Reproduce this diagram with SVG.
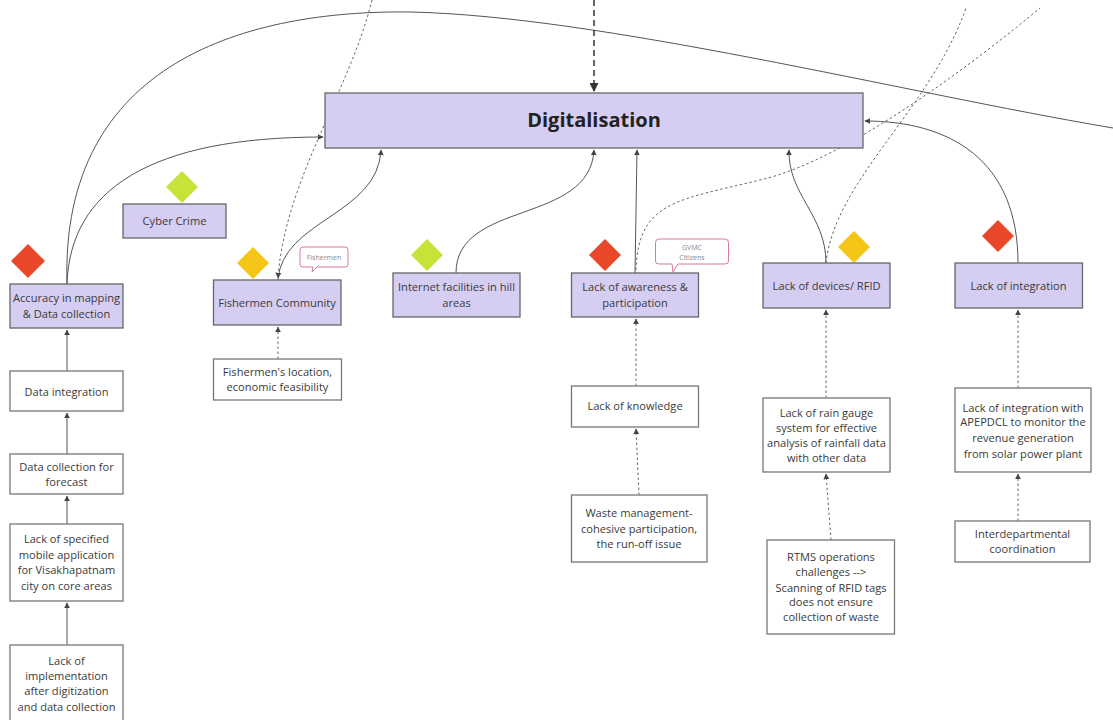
<svg xmlns="http://www.w3.org/2000/svg" width="1113" height="720" viewBox="0 0 1113 720">
<style>
.p{fill:#d5cdf2;stroke:#666;stroke-width:1.3}
.w{fill:#fff;stroke:#777;stroke-width:1.3}
.t{font-family:"Open Sans","Liberation Sans",sans-serif;font-size:11.1px;fill:#3a3a3a;text-anchor:middle;dominant-baseline:central}
.s{fill:none;stroke:#555;stroke-width:1}
.d{fill:none;stroke:#666;stroke-width:1;stroke-dasharray:2.5 2.5}
.c{fill:#fff;stroke:#d9789b;stroke-width:1}
.ct{font-family:"Open Sans","Liberation Sans",sans-serif;font-size:7px;fill:#888;text-anchor:middle;dominant-baseline:central}
.red{fill:#e8472a}.yel{fill:#f5c518}.grn{fill:#c9e23a}
</style>
<defs>
<marker id="a" viewBox="0 0 10 10" refX="9" refY="5" markerWidth="6" markerHeight="6" markerUnits="userSpaceOnUse" orient="auto"><path d="M0,0L10,5L0,10z" fill="#444"/></marker>
<marker id="b" viewBox="0 0 10 10" refX="9" refY="5" markerWidth="9" markerHeight="9" markerUnits="userSpaceOnUse" orient="auto"><path d="M0,0L10,5L0,10z" fill="#333"/></marker>
</defs>
<rect width="1113" height="720" fill="#fff"/>
<g id="connectors">
<path class="s" d="M67,284 C60,60 250,10 410,12 C600,16 900,92 1113,128"/>
<path class="s" d="M67,284 C70,190 150,137 323,137" marker-end="url(#a)"/>
<path d="M594,0 L594,91" fill="none" stroke="#333" stroke-width="1.5" stroke-dasharray="6 4" marker-end="url(#b)"/>
<path class="d" d="M372,0 C350,90 285,180 278,278" marker-end="url(#a)"/>
<path class="s" d="M278,280 C282,220 378,215 381,150" marker-end="url(#a)"/>
<path class="s" d="M456,273 C456,200 590,225 594,150" marker-end="url(#a)"/>
<path class="s" d="M635,273 L637,150" marker-end="url(#a)"/>
<path class="d" d="M636,270 C638,200 680,200 760,180 C850,160 990,50 1040,8"/>
<path class="d" d="M826,263 C835,180 930,110 966,8"/>
<path class="s" d="M826,263 C826,215 788,195 789,150" marker-end="url(#a)"/>
<path class="s" d="M1018,263 C1018,160 950,121 865,121" marker-end="url(#a)"/>
<path class="s" d="M67,371 L67,330" marker-end="url(#a)"/>
<path class="s" d="M67,454 L67,413" marker-end="url(#a)"/>
<path class="s" d="M67,524 L67,496" marker-end="url(#a)"/>
<path class="s" d="M67,645 L67,603" marker-end="url(#a)"/>
<path class="d" d="M278,359 L278,327" marker-end="url(#a)"/>
<path class="d" d="M636,386 L636,319" marker-end="url(#a)"/>
<path class="d" d="M639,495 L636,429" marker-end="url(#a)"/>
<path class="d" d="M826,398 L826,310" marker-end="url(#a)"/>
<path class="d" d="M831,540 L826,474" marker-end="url(#a)"/>
<path class="d" d="M1018,388 L1018,310" marker-end="url(#a)"/>
<path class="d" d="M1018,521 L1018,474" marker-end="url(#a)"/>
</g>
<g id="digitalisation"><rect class="p" x="325" y="93" width="538" height="55"/><text x="594" y="119" font-family="'Open Sans','Liberation Sans',sans-serif" font-size="20" font-weight="bold" fill="#222" text-anchor="middle" dominant-baseline="central">Digitalisation</text></g>
<g id="accuracy"><polygon class="red" points="28,244 45,261 28,278 11,261"/><rect class="p" x="10" y="284" width="113" height="44"/><text class="t" x="66.5" y="297">Accuracy in mapping</text><text class="t" x="66.5" y="313">&amp; Data collection</text></g>
<g id="cybercrime"><polygon class="grn" points="182,171 198,187 182,203 166,187"/><rect class="p" x="123" y="204" width="103" height="34"/><text class="t" x="174.5" y="220">Cyber Crime</text></g>
<g id="fishermen"><polygon class="yel" points="253,247 269,263 253,279 237,263"/><rect class="p" x="213.5" y="280" width="127.5" height="45"/><text class="t" x="277" y="302">Fishermen Community</text>
<path class="c" d="M303,247 H345 Q348,247 348,250 V264 Q348,267 345,267 H317 L312,272 L313,267 H303 Q300,267 300,264 V250 Q300,247 303,247 Z"/><text class="ct" x="324" y="257">Fishermen</text></g>
<g id="internet"><polygon class="grn" points="427,239 443,255 427,271 411,255"/><rect class="p" x="393" y="273" width="127" height="44"/><text class="t" x="456.5" y="286">Internet facilities in hill</text><text class="t" x="456.5" y="302">areas</text></g>
<g id="awareness"><polygon class="red" points="605,239 621,255 605,271 589,255"/><rect class="p" x="571.5" y="273" width="127" height="44"/><text class="t" x="635" y="286">Lack of awareness &amp;</text><text class="t" x="635" y="302">participation</text>
<path class="c" d="M659,239 H725 Q728.5,239 728.5,242.5 V261 Q728.5,264 725,264 H678 L673,272 L672,264 H659 Q655.5,264 655.5,261 V242.5 Q655.5,239 659,239 Z"/><text class="ct" x="692" y="247">GVMC</text><text class="ct" x="692" y="257">Citizens</text></g>
<g id="devices"><polygon class="yel" points="854,231 870,247 854,263 838,247"/><rect class="p" x="763" y="263" width="127" height="45"/><text class="t" x="826.5" y="285">Lack of devices/ RFID</text></g>
<g id="integration"><polygon class="red" points="998,220 1014,236 998,252 982,236"/><rect class="p" x="955" y="263" width="127.5" height="45"/><text class="t" x="1018.5" y="285">Lack of integration</text></g>
<g id="dataintegration"><rect class="w" x="10" y="371" width="113" height="40"/><text class="t" x="66.5" y="391">Data integration</text></g>
<g id="datacollection"><rect class="w" x="10" y="454" width="113" height="40"/><text class="t" x="66.5" y="466">Data collection for</text><text class="t" x="66.5" y="481">forecast</text></g>
<g id="mobileapp"><rect class="w" x="10" y="524" width="113" height="77"/><text class="t" x="66.5" y="538">Lack of specified</text><text class="t" x="66.5" y="554">mobile application</text><text class="t" x="66.5" y="569">for Visakhapatnam</text><text class="t" x="66.5" y="585">city on core areas</text></g>
<g id="implementation"><rect class="w" x="10" y="645" width="113" height="80"/><text class="t" x="66.5" y="660">Lack of</text><text class="t" x="66.5" y="675">implementation</text><text class="t" x="66.5" y="690">after digitization</text><text class="t" x="66.5" y="706">and data collection</text></g>
<g id="fishloc"><rect class="w" x="213.5" y="359" width="128" height="41"/><text class="t" x="277.5" y="371">Fishermen's location,</text><text class="t" x="277.5" y="386">economic feasibility</text></g>
<g id="knowledge"><rect class="w" x="571.5" y="386" width="127" height="41"/><text class="t" x="635" y="405">Lack of knowledge</text></g>
<g id="waste"><rect class="w" x="571.5" y="495" width="135.5" height="67"/><text class="t" x="639" y="512">Waste management-</text><text class="t" x="639" y="528">cohesive participation,</text><text class="t" x="639" y="543">the run-off issue</text></g>
<g id="raingauge"><rect class="w" x="763" y="398" width="127" height="74"/><text class="t" x="826.5" y="412">Lack of rain gauge</text><text class="t" x="826.5" y="427">system for effective</text><text class="t" x="826.5" y="442">analysis of rainfall data</text><text class="t" x="826.5" y="457">with other data</text></g>
<g id="rtms"><rect class="w" x="767" y="540" width="127.5" height="94"/><text class="t" x="831" y="556">RTMS operations</text><text class="t" x="831" y="571">challenges --&gt;</text><text class="t" x="831" y="587">Scanning of RFID tags</text><text class="t" x="831" y="601">does not ensure</text><text class="t" x="831" y="616">collection of waste</text></g>
<g id="apepdcl"><rect class="w" x="955" y="388" width="136" height="84"/><text class="t" x="1023" y="407">Lack of integration with</text><text class="t" x="1023" y="421">APEPDCL to monitor the</text><text class="t" x="1023" y="437">revenue generation</text><text class="t" x="1023" y="453">from solar power plant</text></g>
<g id="interdept"><rect class="w" x="955" y="521" width="135" height="41"/><text class="t" x="1022.5" y="533">Interdepartmental</text><text class="t" x="1022.5" y="548">coordination</text></g>
</svg>
